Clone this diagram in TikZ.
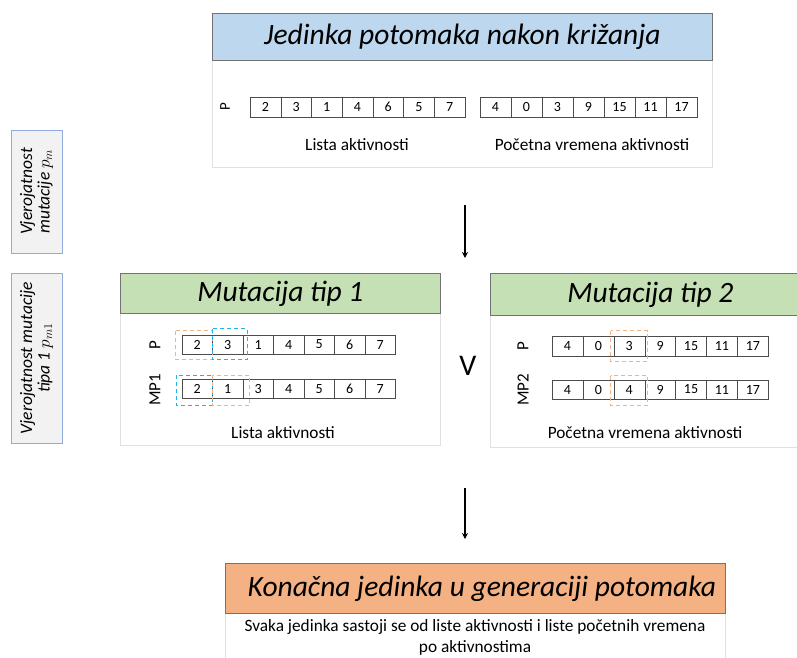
\documentclass[tikz,border=0pt]{standalone}
\usepackage{fontspec}
\setmainfont{Carlito}
\usetikzlibrary{calc,arrows.meta}

\definecolor{hblue}{HTML}{BDD7EE}
\definecolor{hgreen}{HTML}{C5E0B4}
\definecolor{horange}{HTML}{F4B183}
\definecolor{dorange}{HTML}{F4B183}
\definecolor{dblue}{HTML}{1FB2EC}
\definecolor{sidefill}{HTML}{F2F2F2}
\definecolor{sideline}{HTML}{8FAADC}

\tikzset{
  header/.style={draw=black!55, line width=0.8pt, rectangle, inner sep=0pt,
    font=\fontsize{29.5}{32}\selectfont\itshape},
  panel/.style={draw=black!12, rectangle, fill=white, inner sep=0pt},
  cell/.style={draw=black!70, rectangle, minimum width=30.7, minimum height=20,
    inner sep=0pt, font=\fontsize{14}{15}\selectfont},
  rowlabel/.style={rotate=90, font=\fontsize{17}{18}\selectfont},
  caption/.style={font=\fontsize{17.3}{19}\selectfont},
  sidebox/.style={draw=sideline, fill=sidefill, rotate=90, align=center,
    inner sep=0pt, minimum height=51, font=\fontsize{17.5}{17.5}\selectfont\itshape},
  swapbox/.style={line width=1pt, dash pattern=on 4pt off 3pt},
  flow/.style={line width=1.5pt, -{Stealth[length=6pt,width=6pt]}},
}

\begin{document}
\begin{tikzpicture}[x=1pt, y=-1pt]
  \clip (0,0) rectangle (797,657);

  % Top panel: offspring after crossover
  \node[panel, minimum width=500, minimum height=107, anchor=north west] (topbody) at (212,60) {};
  \node[header, fill=hblue, minimum width=500, minimum height=47, anchor=north west] (top) at (212,13) {Jedinka potomaka nakon križanja};
  \node[rowlabel, font=\fontsize{15}{16}\selectfont] (tp) at (225,107) {P};
  \foreach \v [count=\i] in {2,3,1,4,6,5,7}
    \node[cell] (tl\i) at ({250+30.7*(\i-0.5)},107) {\v};
  \foreach \v [count=\i] in {4,0,3,9,15,11,17}
    \node[cell, minimum width=31] (tt\i) at ({480+31*(\i-0.5)},107) {\v};
  \node[caption] (tcap1) at (357,145) {Lista aktivnosti};
  \node[caption] (tcap2) at (592,145) {Početna vremena aktivnosti};

  % Probabilities
  \node[sidebox, minimum width=123] (pm) at (36.5,191.5) {Vjerojatnost\\mutacije $p_m$};
  \node[sidebox, minimum width=170] (pm1) at (36.5,358) {Vjerojatnost mutacije\\tipa 1 $p_{m1}$};

  % Arrow down
  \coordinate (a1s) at (465,205);
  \coordinate (a1e) at (465,258);
  \draw[flow] (a1s) -- (a1e);

  % Mutation type 1
  \node[panel, minimum width=320, minimum height=132, anchor=north west] (m1body) at (120,313) {};
  \node[header, fill=hgreen, minimum width=320, minimum height=40, anchor=north west] (m1) at (120,273) {Mutacija tip 1};
  \node[rowlabel] (m1p) at (155,345) {P};
  \node[rowlabel] (m1m) at (155,390) {MP1};
  \foreach \v [count=\i] in {2,3,1,4,5,6,7}
    \node[cell, minimum width=30.5, minimum height=19] (ma\i) at ({182+30.5*(\i-0.5)},344.5) {\v};
  \foreach \v [count=\i] in {2,1,3,4,5,6,7}
    \node[cell, minimum width=30.5, minimum height=19] (mb\i) at ({182+30.5*(\i-0.5)},389) {\v};
  \draw[swapbox, draw=dorange] ($(ma1.north west)+(-6,-4)$) rectangle ($(ma1.south east)+(0,5)$);
  \draw[swapbox, draw=dblue] ($(ma2.north west)+(0,-6)$) rectangle ($(ma2.south east)+(4,5)$);
  \draw[swapbox, draw=dblue] ($(mb1.north west)+(-5,-4)$) rectangle ($(mb1.south east)+(0,7)$);
  \draw[swapbox, draw=dorange] ($(mb2.north west)+(0,-4)$) rectangle ($(mb2.south east)+(6,7)$);
  \node[caption] (m1cap) at (283,433) {Lista aktivnosti};

  % or
  \node[font=\fontsize{30}{30}\selectfont] (or) at (468,366) {V};

  % Mutation type 2
  \node[panel, minimum width=320, minimum height=132, anchor=north west] (m2body) at (490,315) {};
  \node[header, fill=hgreen, minimum width=320, minimum height=42, anchor=north west] (m2) at (490,273) {Mutacija tip 2};
  \node[rowlabel] (m2p) at (523,346) {P};
  \node[rowlabel] (m2m) at (523,390) {MP2};
  \foreach \v [count=\i] in {4,0,3,9,15,11,17}
    \node[cell, minimum width=30.9] (na\i) at ({552+30.9*(\i-0.5)},346) {\v};
  \foreach \v [count=\i] in {4,0,4,9,15,11,17}
    \node[cell, minimum width=30.9, minimum height=19] (nb\i) at ({552+30.9*(\i-0.5)},389.5) {\v};
  \draw[swapbox, draw=dorange] ($(na3.north west)+(-3,-5)$) rectangle ($(na3.south east)+(3,5)$);
  \draw[swapbox, draw=dorange] ($(nb3.north west)+(-3,-4)$) rectangle ($(nb3.south east)+(3,6)$);
  \node[caption] (m2cap) at (645,433) {Početna vremena aktivnosti};

  % Arrow down
  \coordinate (a2s) at (465,488);
  \coordinate (a2e) at (465,539);
  \draw[flow] (a2s) -- (a2e);

  % Final offspring
  \node[panel, minimum width=500, minimum height=60, anchor=north west] (fbody) at (225,613) {};
  \node[header, fill=horange, minimum width=500, minimum height=50, anchor=north west] (final) at (225,563) {\hspace{13pt}Konačna jedinka u generaciji potomaka};
  \node[caption, align=center, font=\fontsize{17.3}{21}\selectfont] (fdesc) at (475,637.5) {Svaka jedinka sastoji se od liste aktivnosti i liste početnih vremena\\po aktivnostima};
\end{tikzpicture}
\end{document}
